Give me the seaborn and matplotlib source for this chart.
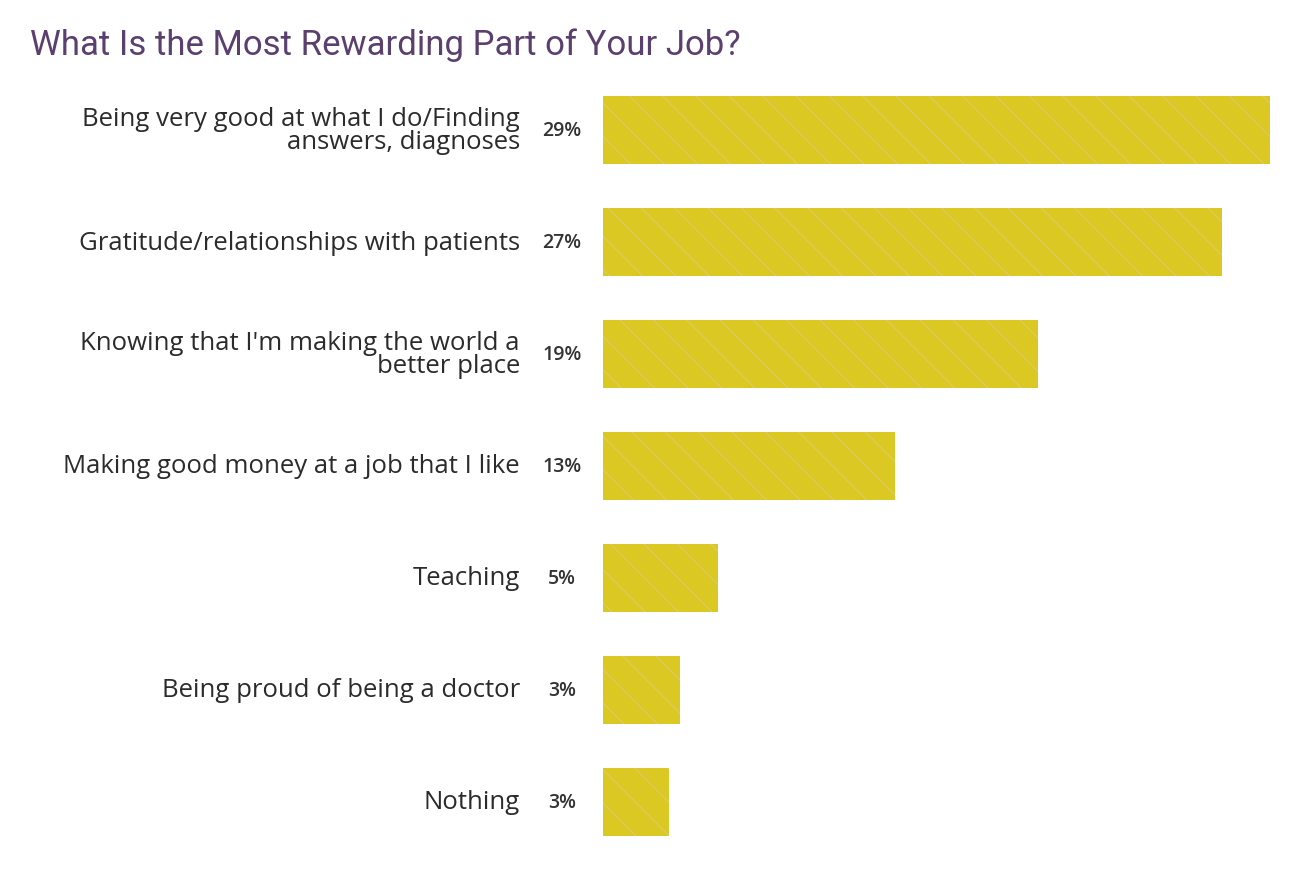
import numpy as np
import pandas as pd
import matplotlib
matplotlib.use("Agg")
import matplotlib.pyplot as plt
import seaborn as sns

categories = [
    "Being very good at what I do/Finding\nanswers, diagnoses",
    "Gratitude/relationships with patients",
    "Knowing that I'm making the world a\nbetter place",
    "Making good money at a job that I like",
    "Teaching",
    "Being proud of being a doctor",
    "Nothing",
]
values = [29.0, 26.9, 18.9, 12.7, 5.0, 3.35, 2.85]
value_labels = ["29%", "27%", "19%", "13%", "5%", "3%", "3%"]

sns.set_theme(style="white")
plt.rcParams["font.family"] = ["Open Sans", "DejaVu Sans"]
plt.rcParams["hatch.linewidth"] = 0.5

df = pd.DataFrame({"answer": categories, "pct": values})

fig = plt.figure(figsize=(12.9, 8.78), dpi=100)
ax = fig.add_axes([603 / 1290, 1 - 859 / 878, (1270 - 603) / 1290, (859 - 75) / 878])

sns.barplot(data=df, x="pct", y="answer", color="#dcc823", saturation=1,
            width=0.607, ax=ax, orient="h")
for p in ax.patches:
    p.set_hatch("\\")
    p.set_edgecolor("#d8cf8e")
    p.set_linewidth(0)

ax.set_xlim(0, 29)
ax.set_ylim(6.5, -0.5)
ax.set_xlabel("")
ax.set_ylabel("")
ax.set_xticks([])
ax.set_yticks([])
sns.despine(ax=ax, left=True, bottom=True)

for i, (cat, lab) in enumerate(zip(categories, value_labels)):
    ax.annotate(cat, xy=(0, i), xytext=(-83, 0), textcoords="offset pixels",
                ha="right", va="center", fontsize=18.5, color="#2b2b2b",
                linespacing=0.86)
    ax.annotate(lab, xy=(0, i), xytext=(-41, 0), textcoords="offset pixels",
                ha="center", va="center", fontsize=14, fontweight="semibold",
                color="#333333")

fig.text(30 / 1290, 1 - 45 / 878, "What Is the Most Rewarding Part of Your Job?",
         ha="left", va="center", fontsize=25, color="#5b3f6e",
         family=["Roboto", "DejaVu Sans"])

fig.savefig("out.png", dpi=100)
